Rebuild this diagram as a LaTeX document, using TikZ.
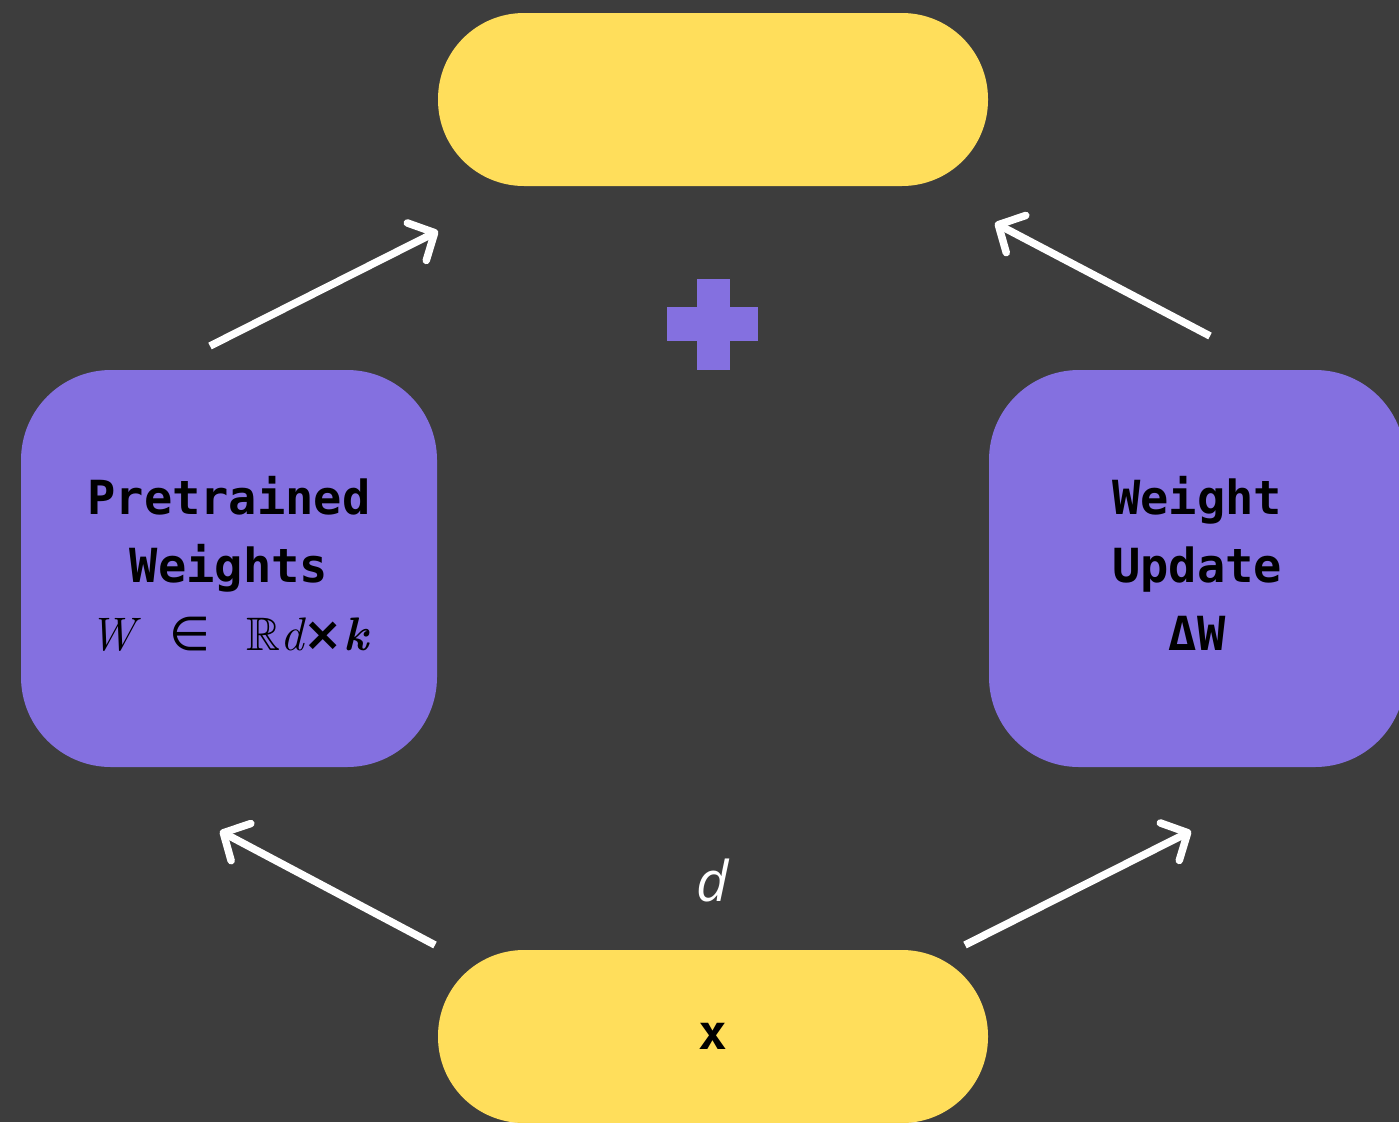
\documentclass[tikz,border=0pt]{standalone}
\usepackage{amssymb}
\usepackage{fontspec}
\usetikzlibrary{arrows.meta}
\newfontfamily\monofam{DejaVu Sans Mono}
\newfontfamily\italfam{Open Sans}
\newfontfamily\dvsfam{DejaVu Sans}
\definecolor{bgc}{HTML}{3D3D3D}
\definecolor{ylw}{HTML}{FFDE5B}
\definecolor{prp}{HTML}{8470E0}
\tikzset{
  pill/.style={fill=ylw, rounded corners=86pt, minimum width=550pt, minimum height=173pt, inner sep=0pt},
  pbox/.style={fill=prp, rounded corners=90pt, minimum width=416pt, minimum height=397pt, inner sep=0pt},
  ptext/.style={align=center, font=\monofam\bfseries\fontsize{47}{68}\selectfont, text=black, inner sep=0pt},
  wire/.style={draw=white, line width=7.5pt, -{Straight Barb[round, length=20pt, width=42pt, line width=7.5pt]}}
}
\begin{document}
\begin{tikzpicture}[x=1pt, y=-1pt]
\fill[bgc] (0,0) rectangle (1399,1122);
\useasboundingbox (0,0) rectangle (1399,1122);
\node[pill] (top) at (713,99.5) {};
\node[pill, font=\monofam\bfseries\fontsize{48}{48}\selectfont] (xin) at (713,1036.5) {x};
\node[pbox] (pre) at (229,568.5) {};
\node[pbox] (upd) at (1197,568.5) {};
\node[ptext, anchor=base] (pretxt) at (229,650) {Pretrained\\Weights\\{\rmfamily\mdseries\itshape W}\hspace{34pt}{\dvsfam\mdseries ∈}\hspace{36pt}$\mathbb{R}${\rmfamily\mdseries\itshape d}{\dvsfam ×}{\rmfamily\bfseries\itshape k}};
\node[ptext, anchor=base] (updtxt) at (1197,650) {Weight\\Update\\ΔW};
% plus sign
\fill[prp] (697,279) rectangle (730,370);
\fill[prp] (667,307) rectangle (758,341);
\node[text=white, font=\italfam\itshape\fontsize{56}{56}\selectfont] (dlab) at (713,880) {d};
% arrow coordinates
\coordinate (a1s) at (210,346); \coordinate (a1e) at (438,231);
\coordinate (a2s) at (1210,336); \coordinate (a2e) at (995,223);
\coordinate (a3s) at (435,945); \coordinate (a3e) at (220,831);
\coordinate (a4s) at (965,945); \coordinate (a4e) at (1191,831);
\draw[wire] (a1s) -- (a1e);
\draw[wire] (a2s) -- (a2e);
\draw[wire] (a3s) -- (a3e);
\draw[wire] (a4s) -- (a4e);
\end{tikzpicture}
\end{document}
